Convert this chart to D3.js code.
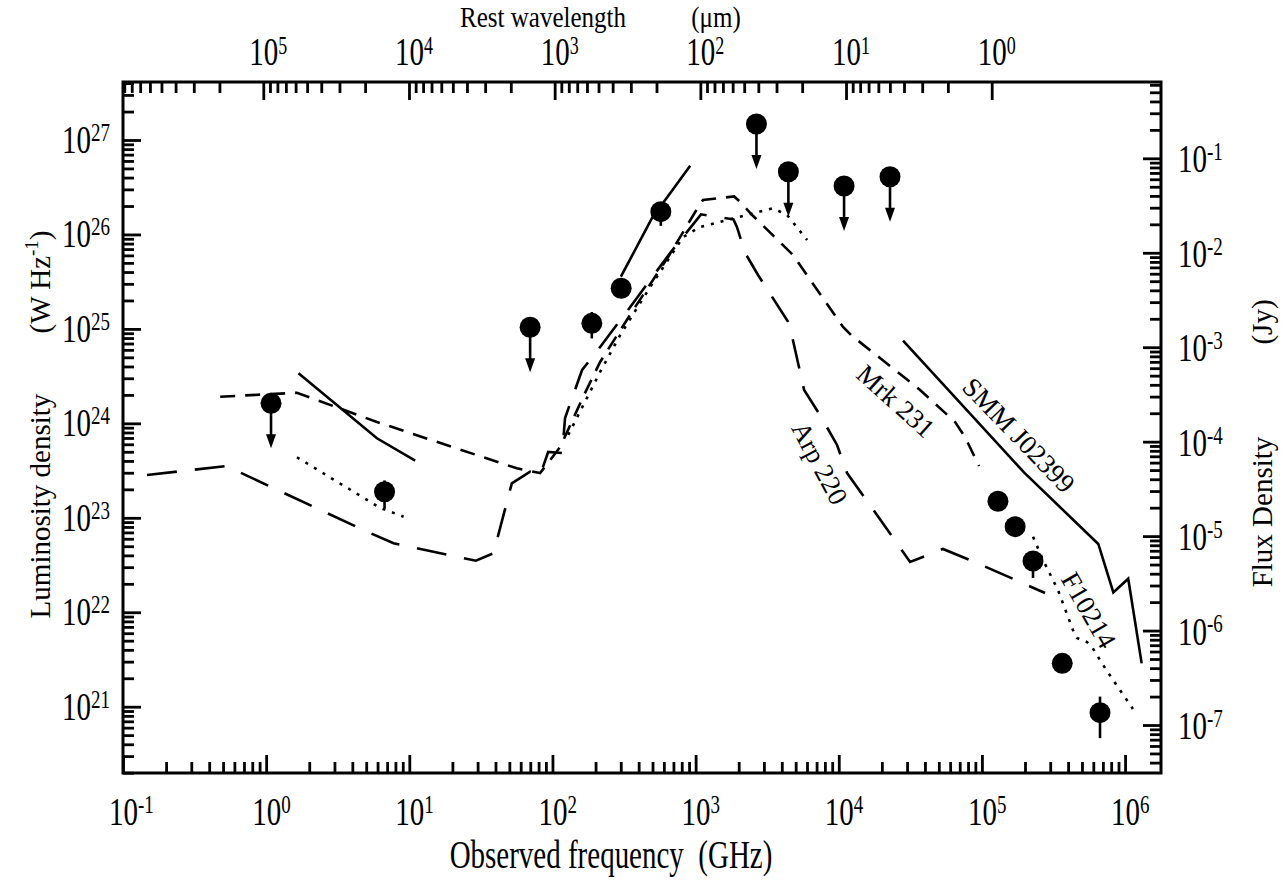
<!DOCTYPE html>
<html>
<head>
<meta charset="utf-8">
<title>SMM J02399 SED</title>
<script src="https://d3js.org/d3.v7.min.js"></script>
<style>
  body { margin: 0; background: #fff; }
  text { font-family: "Liberation Serif", "Times New Roman", Times, serif; fill: #000; }
</style>
</head>
<body>
<svg id="sed" width="1284" height="882"></svg>
<script>
// everything below is log10: frequency in GHz, luminosity density in W/Hz
var freqExps = [-1, 0, 1, 2, 3, 4, 5, 6];
var lumExps = [21, 22, 23, 24, 25, 26, 27];
var fluxExps = [-7, -6, -5, -4, -3, -2, -1];
var waveExps = [5, 4, 3, 2, 1, 0];

// SMM J02399 (solid)
var smmRadio = [[0.226, 24.530], [0.774, 23.842], [1.041, 23.605]];
var smmSubmm = [[2.478, 25.553], [2.696, 26.174], [2.962, 26.728]];
var smmOptical = [[4.449, 24.877], [5.294, 23.480], [5.813, 22.723], [5.918, 22.209], [6.022, 22.355], [6.116, 21.459]];

// Mrk 231 (short dashes)
var mrk231 = [[-0.321, 24.282], [0.215, 24.324], [0.774, 24.014], [1.751, 23.524], [1.914, 23.474],
  [2.054, 23.750], [2.214, 24.279], [2.333, 24.650], [2.564, 25.200], [2.808, 25.761], [2.997, 26.238],
  [3.052, 26.365], [3.269, 26.402], [3.311, 26.344], [3.402, 26.195], [3.681, 25.782], [3.835, 25.444],
  [4.030, 25.020], [4.093, 24.925], [4.288, 24.692], [4.568, 24.353], [4.813, 24.014], [4.882, 23.855],
  [4.980, 23.548]];

// Arp 220 (long dashes)
var arp220 = [[-0.832, 23.453], [-0.274, 23.548], [-0.204, 23.495], [0.704, 22.853], [0.890, 22.730],
  [1.465, 22.546], [1.588, 22.624], [1.716, 23.365], [1.844, 23.488], [1.914, 23.453], [1.970, 23.697],
  [2.068, 23.686], [2.088, 24.057], [2.207, 24.565], [2.333, 24.808], [2.564, 25.274], [2.822, 25.804],
  [3.038, 26.213], [3.264, 26.160], [3.288, 26.082], [3.346, 25.804], [3.436, 25.571], [3.646, 25.076],
  [3.667, 24.967], [3.758, 24.353], [3.869, 24.088], [3.988, 23.771], [4.058, 23.474], [4.267, 23.030],
  [4.498, 22.532], [4.728, 22.670], [4.966, 22.521], [5.441, 22.204]];

// F10214 (dotted)
var f10214Radio = [[0.215, 23.641], [0.797, 23.104], [0.960, 23.012]];
var f10214Ir = [[2.110, 23.877], [2.333, 24.544], [2.473, 24.935], [2.683, 25.444], [2.913, 25.973],
  [3.031, 26.079], [3.262, 26.169], [3.402, 26.224], [3.541, 26.277], [3.639, 26.206], [3.779, 25.941]];
var f10214Optical = [[5.357, 22.800], [5.427, 22.553], [5.531, 22.236], [5.636, 21.812], [5.664, 21.727],
  [5.734, 21.685], [5.769, 21.632], [5.860, 21.410], [5.964, 21.177], [6.055, 20.976]];

// SMM J02399 photometry (upper = 1 means upper limit), error bars in dex
var obsLogNu = [0.034, 0.827, 1.844, 2.275, 2.480, 2.757, 3.425, 3.648, 4.037, 4.358, 5.112, 5.232, 5.357, 5.561, 5.825];
var obsLogL = [24.212, 23.276, 25.017, 25.059, 25.430, 26.241, 27.169, 26.664, 26.513, 26.611, 23.175, 22.906, 22.543, 21.459, 20.937];
var obsUpper = [1, 0, 1, 0, 0, 0, 1, 1, 1, 1, 0, 0, 0, 0, 0];
var obsErrUp = [0, 0.12, 0, 0.12, 0, 0, 0, 0, 0, 0, 0, 0, 0.09, 0, 0.17];
var obsErrDn = [0, 0.18, 0, 0.16, 0, 0.15, 0, 0, 0, 0, 0, 0.11, 0.18, 0, 0.27];

// curve names and where their labels sit (log nu, log L, angle)
var labelNames = ["Mrk 231", "SMM J02399", "Arp 220", "F10214"];
var labelNu = [4.400, 5.259, 3.869, 5.748];
var labelL = [24.237, 23.877, 23.580, 22.024];
var labelAngle = [42, 46, 62, 60];

var padL = 123, padR = 1161, padT = 82, padB = 773;
var stretch = "scale(1,1.35)";   // the original lettering is tall and narrow
var svg = d3.select("#sed");
svg.append("rect").attr("width", 1284).attr("height", 882).attr("fill", "#fff");

var x = d3.scaleLog().domain([Math.pow(10, -1), Math.pow(10, 6.251)]).range([padL, padR]);
var y = d3.scaleLog().domain([Math.pow(10, 20.298), Math.pow(10, 27.614)]).range([padB, padT]);
var yFlux = d3.scaleLog().domain([Math.pow(10, -7.508), Math.pow(10, -0.192)]).range([padB, padT]);
var xWave = d3.scaleLog().domain([Math.pow(10, 5.963), Math.pow(10, -1.162)]).range([padL, padR]);

function minors(scale, lo, hi) {
    var d = scale.domain(), a = Math.min(d[0], d[1]), b = Math.max(d[0], d[1]), out = [];
    for (var e = lo; e <= hi; e++)
        for (var m = 2; m <= 9; m++) {
            var v = m * Math.pow(10, e);
            if (v >= a && v <= b) out.push(v);
        }
    return out;
}
function pow10(list) { return list.map(function (e) { return Math.pow(10, e); }); }

function drawAxis(axisFn, scale, pos, majors, minorVals) {
    [[majors, 18], [minorVals, 11]].forEach(function (set) {
        var g = svg.append("g").attr("transform", pos)
            .call(axisFn(scale).tickValues(set[0]).tickSize(-set[1]).tickSizeOuter(0).tickFormat(""));
        g.select(".domain").remove();
        g.selectAll("line").attr("stroke", "#000").attr("stroke-width", 2.8);
    });
}
drawAxis(d3.axisBottom, x, "translate(0," + padB + ")", pow10(freqExps), minors(x, -1, 6));
drawAxis(d3.axisTop, xWave, "translate(0," + padT + ")", pow10(waveExps), minors(xWave, 0, 5));
drawAxis(d3.axisLeft, y, "translate(" + padL + ",0)", pow10(lumExps), minors(y, 20, 27));
drawAxis(d3.axisRight, yFlux, "translate(" + padR + ",0)", pow10(fluxExps), minors(yFlux, -8, -1));

svg.append("rect").attr("x", padL).attr("y", padT).attr("width", padR - padL).attr("height", padB - padT)
    .attr("fill", "none").attr("stroke", "#000").attr("stroke-width", 3);

function powLabel(px, py, exp, anchor, supDy, supSize) {
    var t = svg.append("text").attr("transform", "translate(" + px + "," + py + ") " + stretch)
        .attr("font-size", 29).attr("text-anchor", anchor);
    t.append("tspan").text("10");
    t.append("tspan").attr("dy", supDy || -9).attr("font-size", supSize || 19).text(exp);
}
freqExps.forEach(function (e) { powLabel(x(Math.pow(10, e)) - 14, 825, e, "start"); });
waveExps.forEach(function (e) { powLabel(xWave(Math.pow(10, e)) - 14, 65, e, "start", -8, 18); });
lumExps.forEach(function (e) { powLabel(110, y(Math.pow(10, e)) + 13, e, "end"); });
fluxExps.forEach(function (e) { powLabel(1178, yFlux(Math.pow(10, e)) + 14, e, "start"); });

// axis titles
function flatText(px, py, size, str, sy) {
    return svg.append("text").attr("transform", "translate(" + px + "," + py + ") scale(1," + sy + ")")
        .attr("font-size", size).attr("text-anchor", "middle").attr("xml:space", "preserve").text(str);
}
flatText(611, 868, 29, "Observed frequency  (GHz)", 1.35);
flatText(543, 27, 25, "Rest wavelength", 1.15);
flatText(716, 27, 25, "(\u03bcm)", 1.15);
svg.append("text").attr("transform", "translate(50,506) rotate(-90)").attr("font-size", 29)
    .attr("text-anchor", "middle").text("Luminosity density");
var unit = svg.append("text").attr("transform", "translate(50,282) rotate(-90)").attr("font-size", 29)
    .attr("text-anchor", "middle");
unit.append("tspan").text("(W Hz");
unit.append("tspan").attr("dy", -12).attr("font-size", 19).text("-1");
unit.append("tspan").attr("dy", 12).text(")");
svg.append("text").attr("transform", "translate(1272,512) rotate(-90)").attr("font-size", 29)
    .attr("text-anchor", "middle").text("Flux Density");
svg.append("text").attr("transform", "translate(1272,322) rotate(-90)").attr("font-size", 29)
    .attr("text-anchor", "middle").text("(Jy)");

// curves
svg.append("clipPath").attr("id", "plotclip").append("rect")
    .attr("x", padL).attr("y", padT).attr("width", padR - padL).attr("height", padB - padT);
var plot = svg.append("g").attr("clip-path", "url(#plotclip)");
var line = d3.line()
    .x(function (d) { return x(Math.pow(10, d[0])); })
    .y(function (d) { return y(Math.pow(10, d[1])); });
var curves = [
    [smmRadio, null], [smmSubmm, null], [smmOptical, null],
    [mrk231, "15,10"],
    [arp220, "30,18"],
    [f10214Radio, "3,7"], [f10214Ir, "3,7"], [f10214Optical, "3,7"]
];
curves.forEach(function (c) {
    plot.append("path").datum(c[0]).attr("d", line).attr("fill", "none")
        .attr("stroke", "#000").attr("stroke-width", 2.6)
        .attr("stroke-dasharray", c[1]);
});

// photometry
obsLogNu.forEach(function (nu, i) {
    var cx = x(Math.pow(10, nu)), cy = y(Math.pow(10, obsLogL[i]));
    if (obsErrUp[i] || obsErrDn[i]) {
        plot.append("line").attr("x1", cx).attr("x2", cx)
            .attr("y1", y(Math.pow(10, obsLogL[i] + obsErrUp[i])))
            .attr("y2", y(Math.pow(10, obsLogL[i] - obsErrDn[i])))
            .attr("stroke", "#000").attr("stroke-width", 2.6);
    }
    if (obsUpper[i]) {
        plot.append("line").attr("x1", cx).attr("x2", cx).attr("y1", cy).attr("y2", cy + 36)
            .attr("stroke", "#000").attr("stroke-width", 2.6);
        plot.append("path").attr("d", "M" + (cx - 5) + "," + (cy + 31) + "L" + (cx + 5) + "," + (cy + 31) +
            "L" + cx + "," + (cy + 45) + "Z").attr("fill", "#000");
    }
    plot.append("circle").attr("cx", cx).attr("cy", cy).attr("r", 10.5).attr("fill", "#000");
});

// curve labels
labelNames.forEach(function (name, i) {
    var lx = x(Math.pow(10, labelNu[i])), ly = y(Math.pow(10, labelL[i]));
    svg.append("text").attr("transform", "translate(" + lx + "," + ly + ") rotate(" + labelAngle[i] + ")")
        .attr("font-size", 27).attr("text-anchor", "middle").attr("dy", "0.35em").text(name);
});
</script>
</body>
</html>
